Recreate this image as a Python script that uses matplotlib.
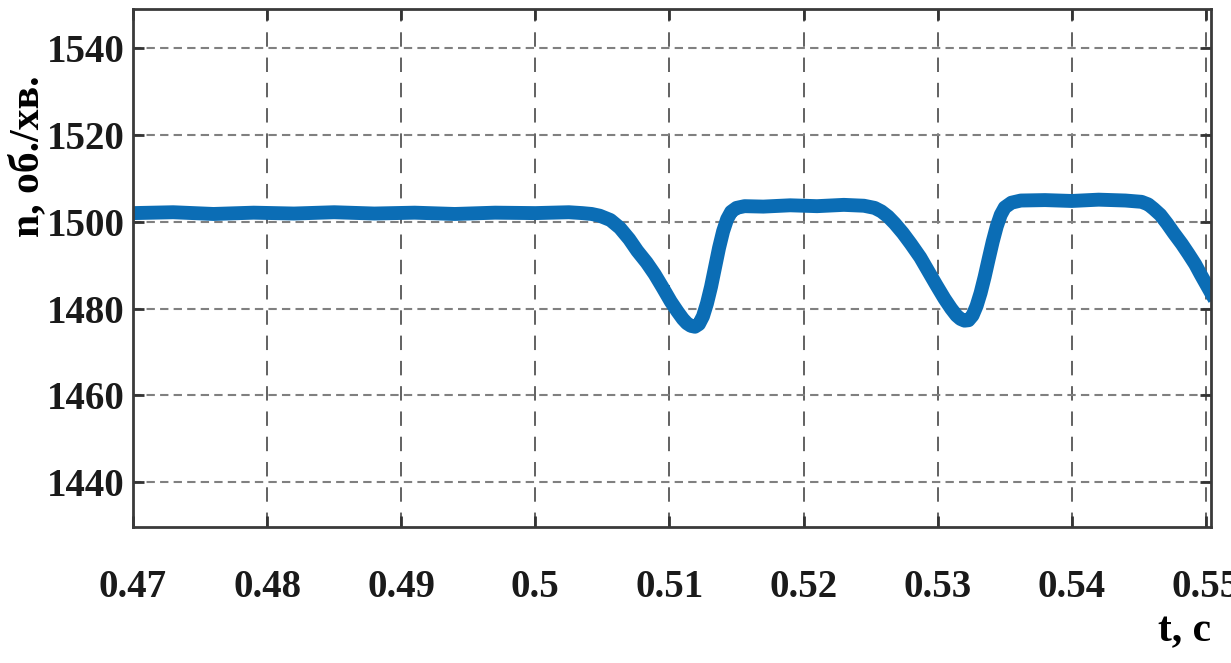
import matplotlib
matplotlib.use("Agg")
import matplotlib.pyplot as plt

# Data: rotor speed vs time
time_s = [0.4700, 0.4730, 0.4760, 0.4790, 0.4820, 0.4850, 0.4880, 0.4910, 0.4940, 0.4970,
          0.5000, 0.5025, 0.5035, 0.5042, 0.5048, 0.5056, 0.5063, 0.5070, 0.5076, 0.5083,
          0.5089, 0.5095, 0.5101, 0.5106, 0.5110, 0.5113, 0.5116, 0.5119, 0.5122, 0.5125,
          0.5128, 0.5131, 0.5134, 0.5137, 0.5140, 0.5143, 0.5146, 0.5150, 0.5156, 0.5170,
          0.5190, 0.5210, 0.5230, 0.5245, 0.5253, 0.5258, 0.5263, 0.5268, 0.5274, 0.5280,
          0.5287, 0.5293, 0.5299, 0.5305, 0.5310, 0.5314, 0.5317, 0.5320, 0.5323, 0.5326,
          0.5329, 0.5332, 0.5335, 0.5338, 0.5341, 0.5344, 0.5347, 0.5350, 0.5355, 0.5362,
          0.5380, 0.5400, 0.5420, 0.5440, 0.5452, 0.5457, 0.5461, 0.5466, 0.5471, 0.5476,
          0.5482, 0.5487, 0.5492, 0.5496, 0.5500, 0.5504]
speed = [1502.0, 1502.2, 1501.8, 1502.1, 1501.9, 1502.2, 1501.9, 1502.1, 1501.8, 1502.1,
         1502.0, 1502.2, 1502.0, 1501.8, 1501.4, 1500.4, 1498.6, 1496.0, 1493.3, 1490.6,
         1487.9, 1484.8, 1481.6, 1479.3, 1477.6, 1476.6, 1476.0, 1475.8, 1476.4, 1478.2,
         1481.2, 1485.0, 1489.5, 1494.0, 1497.8, 1500.6, 1502.3, 1503.2, 1503.6, 1503.5,
         1503.8, 1503.6, 1503.9, 1503.7, 1503.2, 1502.4, 1501.2, 1499.6, 1497.4, 1494.9,
         1491.8, 1488.6, 1485.4, 1482.3, 1480.0, 1478.4, 1477.6, 1477.2, 1477.3, 1478.4,
         1480.6, 1483.6, 1487.3, 1491.4, 1495.4, 1498.9, 1501.6, 1503.3, 1504.4, 1504.9,
         1505.0, 1504.8, 1505.1, 1504.9, 1504.6, 1504.0, 1503.0, 1501.6, 1499.6, 1497.4,
         1494.9, 1492.6, 1490.2, 1487.9, 1485.7, 1483.5]

x_ticks = [0.47, 0.48, 0.49, 0.50, 0.51, 0.52, 0.53, 0.54, 0.55]
x_labels = ['0.47', '0.48', '0.49', '0.5', '0.51', '0.52', '0.53', '0.54', '0.55']
y_ticks = [1440, 1460, 1480, 1500, 1520, 1540]

plt.rcParams['font.family'] = ['Liberation Serif', 'DejaVu Serif']
plt.rcParams['font.weight'] = 'bold'

fig = plt.figure(figsize=(12.31, 6.63), dpi=100)
ax = fig.add_axes([0.108, 0.205, 0.876, 0.781])

ax.plot(time_s, speed, color='#0b6db5', lw=10, solid_joinstyle='round')

ax.set_xlim(0.47, 0.5504)
ax.set_ylim(1429.6, 1549)
ax.set_xticks(x_ticks)
ax.set_xticklabels(x_labels)
ax.set_yticks(y_ticks)

# MATLAB-like grid: long dashes vertically, short dashes horizontally
ax.xaxis.grid(True, linestyle=(0, (8, 6)), color='#555555', lw=1.3)
ax.yaxis.grid(True, linestyle=(0, (4, 2.5)), color='#808080', lw=1.5)

ax.tick_params(direction='in', length=8, width=2, top=True, right=True,
               colors='#333333', labelcolor='#1a1a1a', labelsize=28)
ax.tick_params(axis='x', pad=30)
ax.tick_params(axis='y', pad=6)
for sp in ax.spines.values():
    sp.set_linewidth(2)
    sp.set_color('#3a3a3a')

ax.set_ylabel('n, об./хв.', fontsize=30, fontweight='bold')
ax.yaxis.set_label_coords(-0.0795, 0.716)
ax.set_xlabel('t, c', fontsize=30, fontweight='bold', loc='right')
ax.xaxis.set_label_coords(1.0, -0.165)

fig.savefig('out.png', dpi=100)
